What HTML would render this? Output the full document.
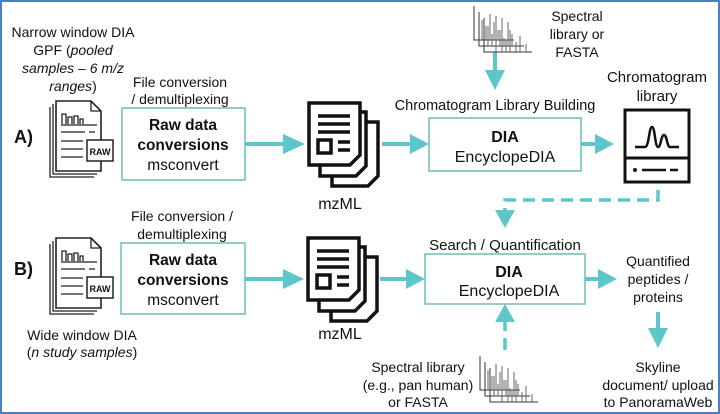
<!DOCTYPE html>
<html><head><meta charset="utf-8"><style>
html,body{margin:0;padding:0;background:#fff}
svg{display:block}
text{font-family:"Liberation Sans",Arial,sans-serif;font-size:14px;fill:#111}
</style></head><body>
<svg width="720" height="414" viewBox="0 0 720 414" xmlns="http://www.w3.org/2000/svg">
<defs>
<g id="raw">
<path d="M10,8 v70 h44" fill="none" stroke="#222" stroke-width="1.3"/>
<path d="M7,11 v70 h44" fill="none" stroke="#222" stroke-width="1.3"/>
<path d="M13,5 h35 l10,10 v60 h-45 z" fill="#fff" stroke="#222" stroke-width="1.6"/>
<path d="M48,5 v10 h10" fill="none" stroke="#222" stroke-width="1.3"/>
<path d="M19,28 v-10 h4 v10 M25,28 v-7 h4 v7 M31,28 v-8 h4 v8 M37,28 v-5 h3 v5" fill="none" stroke="#222" stroke-width="1.3"/>
<path d="M18,29 h36 M18,36 h24 M46,36 h6 M18,45 h22 M18,53 h22 M18,61 h22" stroke="#222" stroke-width="1.3"/>
<rect x="44" y="44" width="26" height="21" fill="#fff" stroke="#222" stroke-width="1.5"/>
<text x="57" y="59" text-anchor="middle" style="font-size:9px;font-weight:bold">RAW</text>
</g>
<g id="mz">
<path d="M24,20 h46 v54 l-10,10 h-36 z" fill="#fff" stroke="#111" stroke-width="3.5"/>
<path d="M12,10 h46 v54 l-10,10 h-36 z" fill="#fff" stroke="#111" stroke-width="3.5"/>
<path d="M1,1 h51 v52 l-10,10 h-41 z" fill="#fff" stroke="#111" stroke-width="3.5"/>
<path d="M10,14 h32 M10,22 h32 M10,30 h32 M30,40 h12 M30,48 h12" stroke="#111" stroke-width="3.5"/>
<rect x="10" y="38" width="13" height="13" fill="none" stroke="#111" stroke-width="3.5"/>
</g>
<g id="spec" stroke="#333" stroke-width="1" fill="none">
<path d="M0,0 v34 h40 M5,6 v34 h45 M10,12 v34 h48"/>
<path d="M8,34 v-20 M12,34 v-14 M16,34 v-26 M20,34 v-18 M24,34 v-10 M28,34 v-22 M14,40 v-20 M18,40 v-12 M22,40 v-30 M26,40 v-16 M30,40 v-8 M34,40 v-24 M38,40 v-12 M22,46 v-16 M28,46 v-20 M32,46 v-12 M36,46 v-22 M42,46 v-10 M46,46 v-16 M52,46 v-8" stroke="#666"/>
</g>
</defs>
<rect x="1" y="1" width="718" height="412" fill="#fff" stroke="#4a7fc6" stroke-width="2"/>

<g fill="#5cc6c9">
<!-- arrows: right-pointing heads -->
<rect x="245" y="142" width="40" height="4"/><path d="M283,134 L305,144 L283,154 z"/>
<rect x="382" y="142" width="30" height="4"/><path d="M410,134 L429,144 L410,154 z"/>
<rect x="493" y="52" width="4" height="22"/><path d="M485,70 L495,90 L505,70 z"/>
<rect x="581" y="142" width="16" height="4"/><path d="M595,134 L614,144 L595,154 z"/>
<rect x="245" y="277" width="40" height="4"/><path d="M283,269 L304,279 L283,289 z"/>
<rect x="380" y="277" width="28" height="4"/><path d="M406,269 L425,279 L406,289 z"/>
<rect x="585" y="277" width="15" height="4"/><path d="M598,269 L617,279 L598,289 z"/>
<rect x="656" y="312" width="4" height="18"/><path d="M648,328 L658,348 L668,328 z"/>
<path d="M495,210 L505,228 L515,210 z"/>
<path d="M495,322 L505,304 L515,322 z"/>
</g>

<!-- Row A -->
<text x="73" y="37" text-anchor="middle">Narrow window DIA</text>
<text x="73" y="55" text-anchor="middle">GPF (<tspan font-style="italic">pooled</tspan></text>
<text x="73" y="73" text-anchor="middle" font-style="italic">samples – 6 m/z</text>
<text x="73" y="91" text-anchor="middle"><tspan font-style="italic">ranges</tspan>)</text>
<text x="14" y="143" style="font-size:18px;font-weight:bold">A)</text>
<use href="#raw" x="43" y="96"/>
<text x="180" y="87" text-anchor="middle">File conversion</text>
<text x="180" y="104" text-anchor="middle">/ demultiplexing</text>
<rect x="122" y="108" width="123" height="72" fill="#fff" stroke="#6fbcbc" stroke-width="1.5"/>
<text x="183" y="130" text-anchor="middle" style="font-size:15.5px;font-weight:bold">Raw data</text>
<text x="183" y="150" text-anchor="middle" style="font-size:15.5px;font-weight:bold">conversions</text>
<text x="183" y="170" text-anchor="middle" style="font-size:15.5px">msconvert</text>
<use href="#mz" x="308" y="102"/>
<text x="340" y="209" text-anchor="middle" style="font-size:16px">mzML</text>
<use href="#spec" x="474" y="6"/>
<text x="577" y="21" text-anchor="middle">Spectral</text>
<text x="577" y="39" text-anchor="middle">library or</text>
<text x="577" y="57" text-anchor="middle">FASTA</text>
<text x="495" y="110" text-anchor="middle" style="font-size:14.5px">Chromatogram Library Building</text>
<rect x="429" y="118" width="152" height="53" fill="#fff" stroke="#6fbcbc" stroke-width="1.5"/>
<text x="505" y="142" text-anchor="middle" style="font-size:16px;font-weight:bold">DIA</text>
<text x="505" y="162" text-anchor="middle" style="font-size:16px">EncyclopeDIA</text>
<text x="657" y="82" text-anchor="middle" style="font-size:15px">Chromatogram</text>
<text x="657" y="101" text-anchor="middle" style="font-size:15px">library</text>
<rect x="625" y="110" width="64" height="72" fill="#fff" stroke="#111" stroke-width="3"/>
<line x1="625" y1="158" x2="689" y2="158" stroke="#111" stroke-width="3"/>
<path d="M635,147 h10 c4,0 4,-20 7,-20 c3,0 3,20 6,20 c3,0 3,-12 6,-12 c3,0 3,12 6,12 h9" fill="none" stroke="#111" stroke-width="2.5"/>
<circle cx="635" cy="170" r="2" fill="#111"/>
<path d="M642,170 h24 M670,170 h8" stroke="#111" stroke-width="2.5"/>
<path d="M658,190 v10 h-153 v12" fill="none" stroke="#5cc6c9" stroke-width="3.5" stroke-dasharray="12,7"/>

<!-- Row B -->
<text x="14" y="275" style="font-size:18px;font-weight:bold">B)</text>
<use href="#raw" x="43" y="233"/>
<text x="182" y="221" text-anchor="middle">File conversion /</text>
<text x="182" y="239" text-anchor="middle">demultiplexing</text>
<rect x="121" y="243" width="124" height="71" fill="#fff" stroke="#6fbcbc" stroke-width="1.5"/>
<text x="183" y="265" text-anchor="middle" style="font-size:15.5px;font-weight:bold">Raw data</text>
<text x="183" y="285" text-anchor="middle" style="font-size:15.5px;font-weight:bold">conversions</text>
<text x="183" y="305" text-anchor="middle" style="font-size:15.5px">msconvert</text>
<use href="#mz" x="307" y="237"/>
<text x="340" y="339" text-anchor="middle" style="font-size:16px">mzML</text>
<text x="82" y="340" text-anchor="middle">Wide window DIA</text>
<text x="82" y="357" text-anchor="middle">(<tspan font-style="italic">n study samples</tspan>)</text>
<text x="505" y="250" text-anchor="middle" style="font-size:15px">Search / Quantification</text>
<rect x="425" y="254" width="160" height="50" fill="#fff" stroke="#6fbcbc" stroke-width="1.5"/>
<text x="509" y="277" text-anchor="middle" style="font-size:16px;font-weight:bold">DIA</text>
<text x="509" y="296" text-anchor="middle" style="font-size:16px">EncyclopeDIA</text>
<path d="M505,350 v-30" fill="none" stroke="#5cc6c9" stroke-width="3.5" stroke-dasharray="12,7"/>
<use href="#spec" x="480" y="356"/>
<text x="418" y="372" text-anchor="middle">Spectral library</text>
<text x="418" y="390" text-anchor="middle">(e.g., pan human)</text>
<text x="418" y="407" text-anchor="middle">or FASTA</text>
<text x="658" y="266" text-anchor="middle">Quantified</text>
<text x="658" y="284" text-anchor="middle">peptides /</text>
<text x="658" y="302" text-anchor="middle">proteins</text>
<text x="658" y="372" text-anchor="middle">Skyline</text>
<text x="658" y="390" text-anchor="middle">document/ upload</text>
<text x="658" y="407" text-anchor="middle">to PanoramaWeb</text>
</svg>
</body></html>
